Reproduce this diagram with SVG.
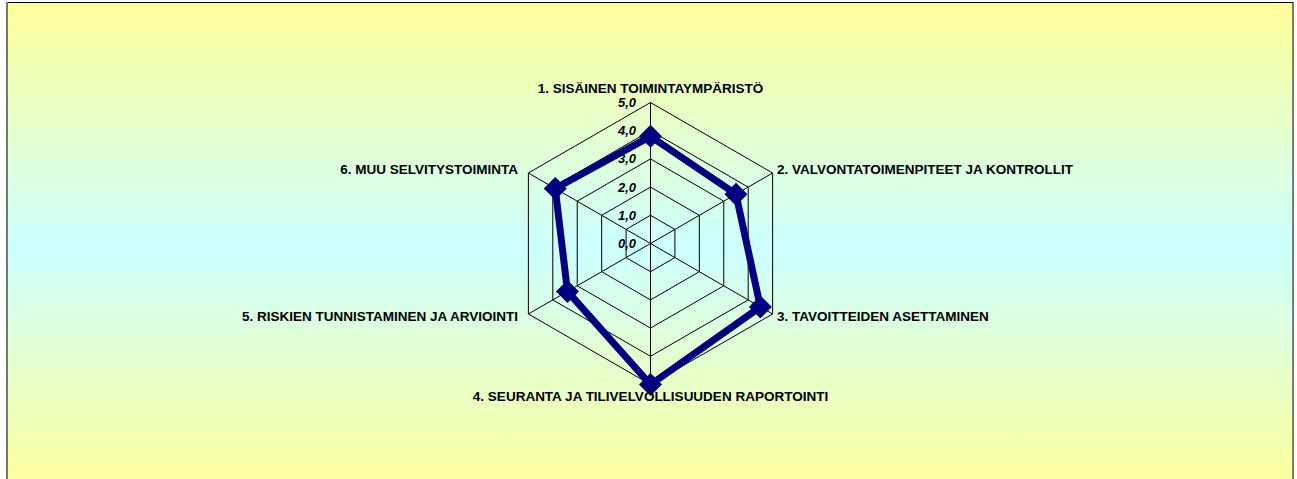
<svg xmlns="http://www.w3.org/2000/svg" width="1297" height="479" viewBox="0 0 1297 479">
<style>
.grid{fill:none;stroke:#000;stroke-width:1}
.cat{font-family:"Liberation Sans",Arial,sans-serif;font-weight:bold;font-size:13.5px;fill:#000}
.val{font-family:"Liberation Sans",Arial,sans-serif;font-weight:bold;font-style:italic;font-size:13px;fill:#000;text-anchor:end}
.series{fill:none;stroke:#000080;stroke-width:7;stroke-linejoin:miter}
.mk{fill:#000080}
</style>
<defs>
<linearGradient id="bg" x1="0" y1="0" x2="0" y2="1">
<stop offset="0" stop-color="#FFFF99"/>
<stop offset="0.5" stop-color="#CCFFFF"/>
<stop offset="1" stop-color="#FFFF99"/>
</linearGradient>
<polygon id="dia" points="0,-11.5 11.5,0 0,11.5 -11.5,0"/>
</defs>
<rect x="0" y="0" width="1297" height="479" fill="#fff"/>
<rect x="7" y="2.5" width="1286" height="490" fill="url(#bg)" stroke="#000" stroke-width="1"/>
<line x1="7" y1="2" x2="7" y2="479" stroke="#777" stroke-width="2"/>
<g id="grid">
<polygon class="grid" points="650.5,215.3 674.92,229.4 674.92,257.6 650.5,271.7 626.08,257.6 626.08,229.4"/>
<polygon class="grid" points="650.5,187.1 699.34,215.3 699.34,271.7 650.5,299.9 601.66,271.7 601.66,215.3"/>
<polygon class="grid" points="650.5,158.9 723.77,201.2 723.77,285.8 650.5,328.1 577.23,285.8 577.23,201.2"/>
<polygon class="grid" points="650.5,130.7 748.19,187.1 748.19,299.9 650.5,356.3 552.81,299.9 552.81,187.1"/>
<polygon class="grid" points="650.5,102.5 772.61,173 772.61,314 650.5,384.5 528.39,314 528.39,173"/>
<path class="grid" d="M650.5,243.5L650.5,102.5M650.5,243.5L772.61,173M650.5,243.5L772.61,314M650.5,243.5L650.5,384.5M650.5,243.5L528.39,314M650.5,243.5L528.39,173"/>
</g>
<g id="axis-values">
<text class="val" x="636" y="248">0,0</text>
<text class="val" x="636" y="219.8">1,0</text>
<text class="val" x="636" y="191.6">2,0</text>
<text class="val" x="636" y="163.4">3,0</text>
<text class="val" x="636" y="135.2">4,0</text>
<text class="val" x="636" y="107">5,0</text>
</g>
<g id="connectors">
<polygon class="series" points="650.5,136.34 735.98,194.15 760.4,306.95 650.5,384.5 567.47,291.44 555.25,188.51"/>
</g>
<g id="markers">
<use class="mk" href="#dia" x="650.5" y="136.34"/>
<use class="mk" href="#dia" x="735.98" y="194.15"/>
<use class="mk" href="#dia" x="760.4" y="306.95"/>
<use class="mk" href="#dia" x="650.5" y="384.5"/>
<use class="mk" href="#dia" x="567.47" y="291.44"/>
<use class="mk" href="#dia" x="555.25" y="188.51"/>
</g>
<g id="node-1"><text class="cat" x="650.5" y="93" text-anchor="middle">1. SISÄINEN TOIMINTAYMPÄRISTÖ</text></g>
<g id="node-2"><text class="cat" x="777" y="174">2. VALVONTATOIMENPITEET JA KONTROLLIT</text></g>
<g id="node-3"><text class="cat" x="777" y="321">3. TAVOITTEIDEN ASETTAMINEN</text></g>
<g id="node-4"><text class="cat" x="650.5" y="401" text-anchor="middle">4. SEURANTA JA TILIVELVOLLISUUDEN RAPORTOINTI</text></g>
<g id="node-5"><text class="cat" x="518" y="321" text-anchor="end">5. RISKIEN TUNNISTAMINEN JA ARVIOINTI</text></g>
<g id="node-6"><text class="cat" x="518" y="174" text-anchor="end">6. MUU SELVITYSTOIMINTA</text></g>
</svg>
